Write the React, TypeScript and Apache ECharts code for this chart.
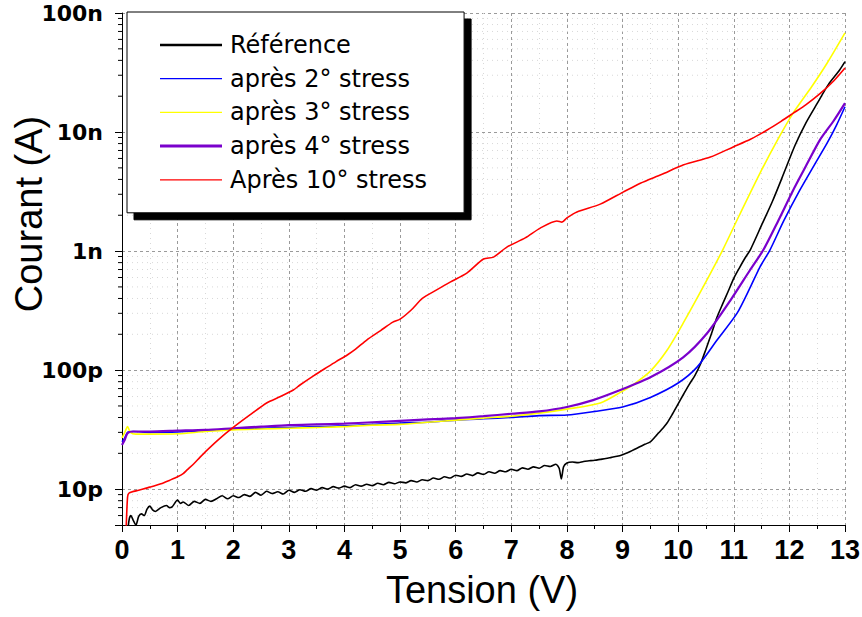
import { useEffect, useRef } from 'react';
import * as echarts from 'echarts';

// ---------- data (V in volts, I in pA) ----------
const seriesNames = ['Référence', 'après 2° stress', 'après 3° stress', 'après 4° stress', 'Après 10° stress'];
const seriesColors = ['#000000', '#0000ff', '#ffff00', '#7a00cc', '#ff0000'];
const seriesWidths = [1.6, 1.6, 1.6, 2.2, 1.6];
const legendWidths = [2.5, 1.3, 1.3, 3, 1.3];

const refV = [0.10, 0.13, 0.16, 0.20, 0.25, 0.30, 0.35, 0.40, 0.45, 0.50, 0.55, 0.60, 0.70, 0.80, 0.85, 0.90, 1.00, 1.05, 1.10, 1.20, 1.30, 1.40, 1.50, 1.60, 1.70, 1.80, 1.90, 2.00, 2.10, 2.20, 2.30, 2.40, 2.50, 2.60, 2.70, 2.80, 2.90, 3.00, 3.10, 3.20, 3.30, 3.40, 3.50, 3.60, 3.70, 3.80, 3.90, 4.00, 4.10, 4.20, 4.30, 4.40, 4.50, 4.60, 4.70, 4.80, 4.90, 5.00, 5.10, 5.20, 5.30, 5.40, 5.50, 5.60, 5.70, 5.80, 5.90, 6.00, 6.10, 6.20, 6.30, 6.40, 6.50, 6.60, 6.70, 6.80, 6.90, 7.00, 7.10, 7.20, 7.30, 7.40, 7.50, 7.60, 7.70, 7.80, 7.86, 7.90, 7.94, 8.00, 8.10, 8.20, 8.30, 8.40, 8.50, 8.60, 8.70, 8.80, 8.90, 9.00, 9.10, 9.20, 9.30, 9.40, 9.50, 9.60, 9.70, 9.80, 9.90, 10.00, 10.10, 10.20, 10.30, 10.40, 10.50, 10.60, 10.70, 10.80, 10.90, 11.00, 11.10, 11.20, 11.30, 11.50, 11.70, 11.90, 12.10, 12.30, 12.50, 12.70, 12.90, 13.00];
const refI = [4.3, 5.6, 6.0, 5.5, 5.0, 5.9, 6.2, 6.0, 6.8, 7.2, 6.7, 6.5, 7.0, 7.3, 7.0, 7.1, 8.1, 7.6, 7.8, 7.3, 7.9, 7.6, 8.2, 7.9, 8.3, 8.8, 8.3, 8.8, 8.5, 9.0, 8.7, 9.4, 8.9, 9.6, 9.2, 9.5, 9.1, 9.8, 9.4, 9.9, 9.6, 10.1, 9.8, 10.3, 10.0, 10.5, 10.2, 10.6, 10.3, 10.9, 10.6, 11.0, 10.7, 11.2, 10.9, 11.4, 11.1, 11.5, 11.3, 11.8, 11.5, 12.0, 11.8, 12.4, 12.1, 12.7, 12.4, 13.1, 12.8, 13.4, 13.0, 13.7, 13.3, 14.0, 13.6, 14.3, 14.0, 14.7, 14.3, 15.1, 14.7, 15.4, 15.0, 15.8, 15.5, 16.2, 15.0, 12.2, 15.4, 16.6, 16.9, 16.7, 17.1, 17.3, 17.5, 17.8, 18.1, 18.5, 18.9, 19.5, 20.3, 21.4, 22.6, 23.8, 25.0, 28, 31.5, 36, 43, 52, 63, 76, 90, 112, 150, 203, 279, 360, 460, 590, 720, 870, 1030, 1650, 2650, 4500, 7700, 12000, 17400, 25000, 33000, 39000];

const s2V = [0.00, 0.05, 0.10, 0.20, 0.50, 1.00, 1.50, 2.00, 2.50, 3.00, 3.50, 4.00, 4.50, 5.00, 5.50, 6.00, 6.50, 7.00, 7.50, 8.00, 8.50, 9.00, 9.50, 10.00, 10.34, 10.70, 11.06, 11.30, 11.47, 11.65, 11.90, 12.19, 12.45, 12.68, 12.85, 13.00];
const s2I = [25, 27, 30, 30.5, 30, 30.2, 31, 32, 32.5, 33, 33.5, 34, 35, 36, 36.5, 38, 39, 40, 41.5, 42, 45, 49, 59, 78, 106, 179, 301, 500, 734, 1020, 1800, 3260, 5300, 8100, 11500, 16300];

const s3V = [0.00, 0.05, 0.10, 0.15, 0.25, 0.50, 1.00, 1.50, 2.00, 2.50, 3.00, 3.50, 4.00, 4.50, 5.00, 5.50, 6.00, 6.50, 7.00, 7.50, 8.00, 8.60, 8.96, 9.20, 9.50, 9.80, 10.09, 10.45, 10.80, 11.10, 11.47, 11.80, 12.07, 12.40, 12.68, 13.00];
const s3I = [27, 30, 33.5, 30, 29, 29, 29.2, 30.5, 31.5, 32, 32.5, 33, 33.5, 34.5, 35, 36.5, 38, 39.5, 41, 43.5, 47, 53, 65, 76, 98, 147, 248, 500, 1020, 2000, 4500, 8800, 14500, 24000, 38000, 68000];

const s4V = [0.00, 0.05, 0.10, 0.20, 0.50, 1.00, 1.50, 2.00, 2.50, 3.00, 3.50, 4.00, 4.50, 5.00, 5.50, 6.00, 6.50, 7.00, 7.50, 8.00, 8.47, 8.96, 9.50, 10.09, 10.52, 10.94, 11.29, 11.53, 11.80, 12.07, 12.30, 12.55, 12.80, 13.00];
const s4I = [23.5, 26, 29.5, 30.5, 30.5, 31, 31.5, 32.5, 33.5, 34.5, 35, 35.5, 36.5, 37.5, 38.5, 39.5, 41, 43, 45, 49, 56, 68, 87, 128, 204, 386, 690, 1020, 1800, 3260, 5200, 8600, 12500, 17500];

const s10V = [0.07, 0.10, 0.13, 0.30, 0.50, 0.70, 0.86, 1.00, 1.10, 1.17, 1.30, 1.40, 1.53, 1.75, 2.00, 2.30, 2.60, 2.85, 3.08, 3.20, 3.45, 3.69, 3.85, 4.05, 4.20, 4.40, 4.65, 4.87, 5.00, 5.20, 5.40, 5.65, 5.90, 6.20, 6.50, 6.68, 6.92, 7.25, 7.52, 7.82, 7.91, 8.00, 8.18, 8.60, 9.01, 9.32, 9.70, 10.10, 10.58, 10.99, 11.30, 11.60, 11.85, 12.07, 12.30, 12.55, 12.80, 13.00];
const s10I = [4, 8.6, 9.3, 9.8, 10.4, 11.1, 11.9, 12.7, 13.5, 14.5, 16.5, 18.5, 21.3, 26.5, 33, 42, 53, 60, 68, 75, 90, 106, 118, 134, 150, 179, 215, 253, 268, 320, 400, 470, 549, 653, 857, 890, 1080, 1290, 1560, 1790, 1750, 1900, 2130, 2480, 3130, 3720, 4400, 5300, 6160, 7500, 8700, 10400, 12300, 14400, 17000, 21000, 27000, 34500];

const yTickValues = [1e-11, 1e-10, 1e-9, 1e-8, 1e-7];
const yTickLabels = ['10p', '100p', '1n', '10n', '100n'];
const yMin = 5e-12;
const yMax = 1e-7;
const xMin = 0;
const xMax = 13;

const allV = [refV, s2V, s3V, s4V, s10V];
const allI = [refI, s2I, s3I, s4I, s10I];

export default function App() {
  const ref = useRef<HTMLDivElement>(null);
  useEffect(() => {
    document.body.style.margin = '0';
    const chart = echarts.init(ref.current!, null, { renderer: 'svg' });
    const series = seriesNames.map((name, k) => ({
      name,
      type: 'line',
      symbol: 'none',
      showSymbol: false,
      smooth: 0.25,
      lineStyle: { color: seriesColors[k], width: seriesWidths[k] },
      itemStyle: { color: seriesColors[k] },
      data: allV[k].map((v, i) => [v, allI[k][i] * 1e-12]),
      z: 2 + k * 0.01,
    }));
    chart.setOption({
      animation: false,
      backgroundColor: '#ffffff',
      grid: { left: 122, right: 17, top: 13, bottom: 92, outerBoundsMode: 'none' },
      xAxis: {
        type: 'value',
        min: xMin,
        max: xMax,
        interval: 1,
        axisLine: { show: true, onZero: false, lineStyle: { color: '#000', width: 1 } },
        axisTick: { show: true, length: 7, lineStyle: { color: '#000' } },
        minorTick: { show: true, splitNumber: 2, length: 4, lineStyle: { color: '#000' } },
        axisLabel: { fontFamily: 'Liberation Sans', fontWeight: 'bold', fontSize: 27, color: '#000', margin: 11 },
        splitLine: { show: true, lineStyle: { color: '#9a9a9a', type: [3, 3], width: 1 } },
        minorSplitLine: { show: true, lineStyle: { color: '#d8d8d8', type: [1, 4], width: 1 } },
      },
      yAxis: {
        type: 'log',
        logBase: 10,
        min: yMin,
        max: yMax,
        axisLine: { show: true, lineStyle: { color: '#000', width: 1 } },
        axisTick: { show: true, length: 7, lineStyle: { color: '#000' } },
        axisLabel: {
          fontFamily: 'DejaVu Sans',
          fontWeight: 'bold',
          fontSize: 22,
          color: '#000',
          margin: 19,
          showMinLabel: true,
          showMaxLabel: true,
          formatter: (v: number) => {
            const i = yTickValues.findIndex((t) => Math.abs(Math.log10(v) - Math.log10(t)) < 1e-6);
            return i >= 0 ? yTickLabels[i] : '';
          },
        },
        splitLine: { show: true, lineStyle: { color: '#9a9a9a', type: [3, 3], width: 1 } },
      },
      legend: {
        show: true,
        orient: 'vertical',
        left: 127,
        top: 12,
        padding: [20, 37, 20, 33],
        itemGap: 7.7,
        itemWidth: 62,
        itemHeight: 3,
        icon: 'rect',
        backgroundColor: '#ffffff',
        borderColor: '#000000',
        borderWidth: 1,
        borderRadius: 0,
        shadowColor: '#000000',
        shadowBlur: 0,
        shadowOffsetX: 7,
        shadowOffsetY: 7,
        textStyle: { fontFamily: 'DejaVu Sans', fontSize: 24, color: '#000', lineHeight: 26, padding: [0, 0, 0, 3] },
        data: seriesNames.map((name, k) => ({
          name,
          icon: `path://M0,0 L62,0 L62,${legendWidths[k]} L0,${legendWidths[k]} Z`,
        })),
      },
      series,
    });

    // minor log ticks & grid lines, positioned via the chart's own scales
    const els: any[] = [];
    for (let d = -12; d <= -8; d++) {
      for (let m = 2; m <= 9; m++) {
        const v = m * Math.pow(10, d);
        if (v <= yMin * 1.0001 || v >= yMax) continue;
        const p0 = chart.convertToPixel({ gridIndex: 0 }, [xMin, v]) as number[];
        const p1 = chart.convertToPixel({ gridIndex: 0 }, [xMax, v]) as number[];
        els.push({
          type: 'line',
          silent: true,
          z: 0,
          shape: { x1: p0[0], y1: p0[1], x2: p1[0], y2: p1[1] },
          style: { stroke: '#d8d8d8', lineWidth: 1, lineDash: [1, 4] },
        });
        els.push({
          type: 'line',
          silent: true,
          z: 5,
          shape: { x1: p0[0] - 4, y1: p0[1], x2: p0[0], y2: p0[1] },
          style: { stroke: '#000', lineWidth: 1 },
        });
      }
    }
    els.push({
      type: 'text',
      x: 482,
      y: 590,
      z: 10,
      style: { text: 'Tension (V)', font: '38px "Liberation Sans"', fill: '#000', textAlign: 'center', textVerticalAlign: 'middle' },
    });
    els.push({
      type: 'text',
      x: 28.5,
      y: 214,
      rotation: Math.PI / 2,
      z: 10,
      style: { text: 'Courant (A)', font: '38px "Liberation Sans"', fill: '#000', textAlign: 'center', textVerticalAlign: 'middle' },
    });
    chart.setOption({ graphic: els });

    return () => chart.dispose();
  }, []);
  return <div ref={ref} style={{ width: 862, height: 617 }} />;
}
